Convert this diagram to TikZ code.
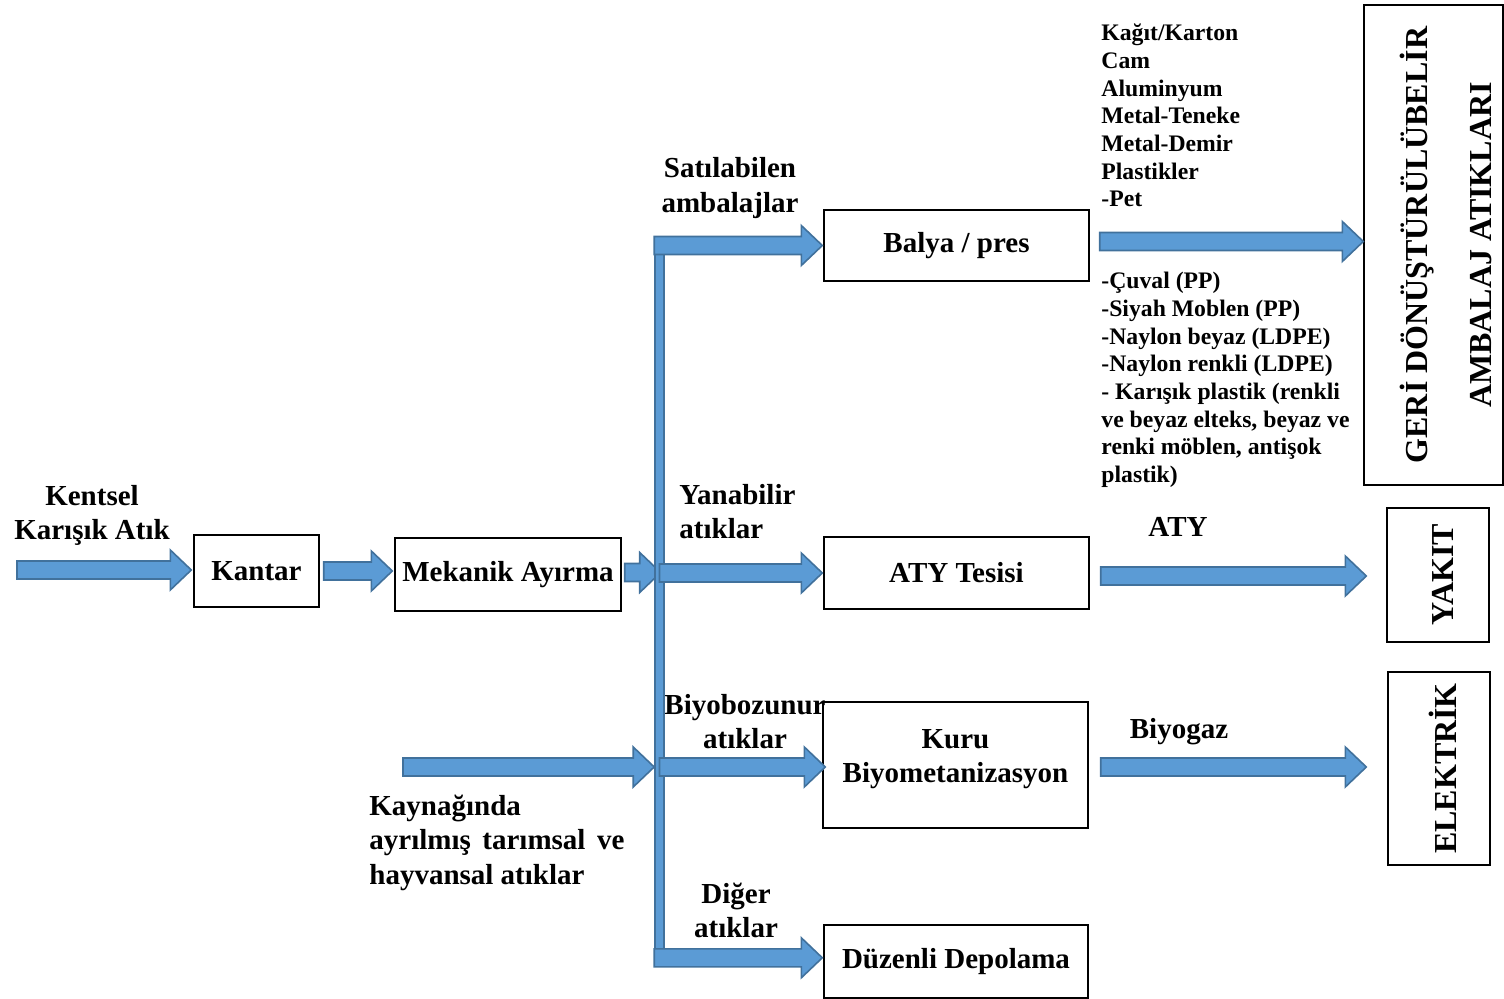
\documentclass[tikz,border=0pt]{standalone}
\usepackage{fontspec}
\setmainfont{Liberation Serif}
\usetikzlibrary{calc}

\definecolor{arrowfill}{HTML}{5B9BD5}
\definecolor{arrowline}{HTML}{41719C}

\newcommand\flowfont{\bfseries\fontsize{14.5}{17.25}\selectfont}
\newcommand\listfont{\bfseries\fontsize{11.85}{13.85}\selectfont}
\newcommand\sidefont{\bfseries\fontsize{16}{19}\selectfont}

\tikzset{
  barrow/.style={fill=arrowfill, draw=arrowline, line width=0.8pt, line join=miter},
  box/.style={draw, line width=0.7pt, inner sep=0pt, align=center, font=\flowfont},
  lbl/.style={inner sep=0pt, align=center, font=\flowfont},
  listtext/.style={inner sep=0pt, align=left, font=\listfont},
  vlbl/.style={inner sep=0pt, align=center, rotate=90, font=\sidefont},
}

% horizontal block arrow from #1 to the x of #2 (kept on the height of #1)
\newcommand\blockarrow[2]{%
  \path (#1) coordinate (ba-s) (#2) coordinate (ba-t);
  \path (ba-t |- ba-s) coordinate (ba-e);
  \draw[barrow] ($(ba-s)+(0,-9)$) -- ($(ba-e)+(-21,-9)$) -- ($(ba-e)+(-21,-20)$)
    -- (ba-e) -- ($(ba-e)+(-21,20)$) -- ($(ba-e)+(-21,9)$) -- ($(ba-s)+(0,9)$) -- cycle;}

\begin{document}
\begin{tikzpicture}[x=0.5pt,y=-0.5pt]
\useasboundingbox (0,0) rectangle (1504,999);

% process boxes
\node[box, minimum width=62.5pt, minimum height=36pt] (kantar) at (256.5,571) {Kantar};
\node[box, minimum width=113pt, minimum height=36.5pt] (mek) at (508,574.5) {Mekanik Ayırma};
\node[box, minimum width=132.5pt, minimum height=35.5pt] (balya) at (956.5,245.5) {Balya / pres\rule[-2pt]{0pt}{2pt}};
\node[box, minimum width=132.5pt, minimum height=36pt] (aty) at (956.5,573) {ATY Tesisi};
\node[box, minimum width=132.5pt, minimum height=63pt] (kuru) at (955.5,765) {Kuru\\Biyometanizasyon\rule[-9pt]{0pt}{9pt}};
\node[box, minimum width=132pt, minimum height=36.5pt] (depo) at (956,961.5) {Düzenli Depolama};

% output boxes with vertical text
\node[box, minimum width=69.5pt, minimum height=240pt] (geri) at (1433.5,245) {};
\node[box, minimum width=51pt, minimum height=67pt] (yakit) at (1438,575) {};
\node[box, minimum width=51pt, minimum height=96.5pt] (elek) at (1439,768.5) {};
\node[vlbl] (geritxt) at ($(geri)+(12,0)$) {GERİ DÖNÜŞTÜRÜLÜBELİR\\[13pt]AMBALAJ ATIKLARI};
\node[vlbl] (yakittxt) at ($(yakit)+(5,0)$) {YAKIT};
\node[vlbl] (elektxt) at ($(elek)+(4,0)$) {ELEKTRİK};

% labels
\node[lbl] (kent) at (92,515.5) {Kentsel\\Karışık Atık};
\node[lbl] (sat) at (730,188) {Satılabilen\\ambalajlar};
\node[lbl, anchor=west, align=left] (yan) at (679,511.5) {Yanabilir\\atıklar};
\node[lbl] (biyo) at (745,721.5) {Biyobozunur\\atıklar};
\node[lbl] (diger) at (736,910.5) {Diğer\\atıklar};
\node[lbl, anchor=west, align=left] (kayn) at (369,842.5)
  {Kaynağında\\\makebox[127.5pt][s]{ayrılmış tarımsal ve}\\hayvansal atıklar};
\node[lbl] (atylbl) at (1178,527) {ATY};
\node[lbl] (biyogaz) at (1179,732) {Biyogaz};
\node[listtext, anchor=west] (ambal) at (1101,115.5)
  {Kağıt/Karton\\Cam\\Aluminyum\\Metal-Teneke\\Metal-Demir\\Plastikler\\-Pet};
\node[listtext, anchor=west] (plast) at (1101,380)
  {-Çuval (PP)\\-Siyah Moblen (PP)\\-Naylon beyaz (LDPE)\\-Naylon renkli (LDPE)\\- Karışık plastik (renkli\\ve beyaz elteks, beyaz ve\\renki möblen, antişok\\plastik)};

% flow arrows
\coordinate (src) at (17,570);
\coordinate (agr) at (403,767);
\blockarrow{src}{$(kantar.west)+(-2,0)$}
\blockarrow{$(kantar.east)+(4,0)$}{$(mek.west)+(-2,0)$}
\blockarrow{$(mek.east)+(3,-2)$}{$(mek.east)+(39,-2)$}

% distribution bar
\node[barrow, minimum width=4.5pt, minimum height=364pt, inner sep=0pt] (bar) at (659.5,601) {};

\blockarrow{bar.west |- balya}{$(balya.west)+(-1,0)$}
\blockarrow{bar.center |- aty}{$(aty.west)+(-1,0)$}
\blockarrow{$(bar.center |- kuru)+(0,2)$}{$(kuru.west)+(3,0)$}
\blockarrow{$(bar.south west)+(0,-8)$}{$(depo.west)+(-1,0)$}
\blockarrow{agr}{bar.west |- agr}

\blockarrow{$(balya.east)+(10,-4)$}{geri.west}
\blockarrow{$(aty.east)+(11,3)$}{$(yakit.west)+(-20,0)$}
\blockarrow{$(kuru.east)+(12,2)$}{$(elek.west)+(-21,0)$}
\end{tikzpicture}
\end{document}
